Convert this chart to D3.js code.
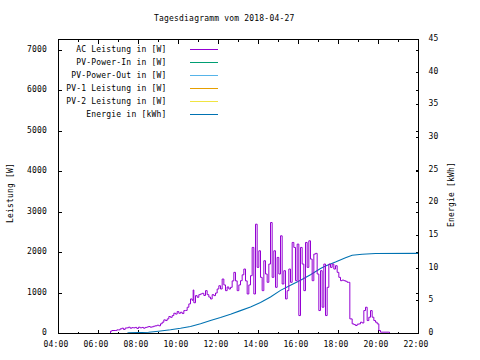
<!DOCTYPE html>
<html><head><meta charset="utf-8">
<script src="https://cdn.jsdelivr.net/npm/d3@7"></script>
<style>
body{margin:0;background:#fff}
svg{display:block}
text{font-family:"DejaVu Sans Mono",monospace;font-size:8px;fill:#000;letter-spacing:0.2px}
</style>
</head><body><svg id="c" width="480" height="360"></svg>
<script>
const titleText = "Tagesdiagramm vom 2018-04-27";
const yLeftTitle = "Leistung [W]";
const yRightTitle = "Energie [kWh]";
const seriesNames = ["AC Leistung in [W]","PV-Power-In in [W]","PV-Power-Out in [W]","PV-1 Leistung in [W]","PV-2 Leistung in [W]","Energie in [kWh]"];
const seriesColors = ["#9400d3","#009e73","#56b4e9","#e69f00","#f0e442","#0072b2"];

const xTickLabels = ["04:00","06:00","08:00","10:00","12:00","14:00","16:00","18:00","20:00","22:00"];
const xMinorTicks = ["05:00","07:00","09:00","11:00","13:00","15:00","17:00","19:00","21:00"];
const yLeftTicks = [0,1000,2000,3000,4000,5000,6000,7000];
const yRightTicks = [0,5,10,15,20,25,30,35,40,45];

const acTimes = ["06:31","06:36","06:40","06:50","06:55","07:00","07:05","07:10","07:15","07:20","07:25","07:30","07:35","07:40","07:45","07:50","07:55","08:00","08:05","08:10","08:15","08:20","08:25","08:30","08:35","08:40","08:45","08:50","08:56","09:01","09:06","09:11","09:16","09:21","09:26","09:31","09:36","09:41","09:46","09:51","09:56","10:01","10:06","10:11","10:16","10:21","10:26","10:31","10:36","10:41","10:44","10:46","10:51","10:56","11:01","11:06","11:11","11:16","11:21","11:26","11:31","11:36","11:41","11:46","11:51","11:56","12:01","12:06","12:11","12:16","12:21","12:26","12:31","12:36","12:41","12:46","12:51","12:56","13:01","13:06","13:11","13:16","13:21","13:26","13:31","13:36","13:41","13:46","13:51","13:56","14:01","14:06","14:11","14:16","14:21","14:26","14:31","14:36","14:41","14:46","14:51","14:56","15:01","15:06","15:11","15:16","15:21","15:26","15:31","15:36","15:41","15:46","15:51","15:56","16:01","16:06","16:11","16:16","16:21","16:26","16:31","16:36","16:41","16:46","16:51","16:56","17:01","17:06","17:11","17:16","17:21","17:26","17:31","17:36","17:41","17:46","17:51","17:56","18:01","18:06","18:11","18:16","18:21","18:26","18:31","18:34","18:41","18:46","18:51","18:56","19:01","19:06","19:11","19:16","19:21","19:26","19:31","19:36","19:41","19:46","19:51","19:56","20:01","20:06","20:31","20:33"];
const acValues = [0,57,74,74,90,90,115,131,100,135,140,156,131,145,140,150,125,156,140,150,131,150,160,172,156,165,180,190,205,190,240,279,337,320,361,419,400,443,501,480,542,500,525,493,566,570,649,731,854,820,1076,760,936,895,960,977,993,940,1059,960,900,854,960,936,1000,1100,1180,1100,1346,1200,1059,1150,1100,1141,1300,1511,1300,1059,1200,1305,1450,1593,1300,977,1200,1428,2127,977,2701,1634,2044,1388,1059,1798,1470,1265,1716,2742,1388,2044,1141,1880,1470,2414,1223,1552,854,1059,1593,1265,2250,2127,1305,2209,443,2127,1716,1059,2250,1634,2290,1839,1305,1962,1980,1470,567,1552,649,1716,443,1141,1716,1634,1716,1593,1675,1511,1388,1305,1320,1305,1290,1265,1265,361,238,220,197,230,238,279,260,567,649,320,402,566,402,320,279,238,74,33,33,0];

const energyTimes = ["07:25","07:30","08:30","09:00","09:36","10:06","10:36","11:06","11:36","12:06","12:36","13:06","13:36","14:06","14:36","15:06","15:36","16:06","16:36","17:06","17:21","17:51","18:21","18:41","19:11","19:51","22:00"];
const energyValues = [0,0.1,0.2,0.35,0.57,0.8,1.07,1.5,2.0,2.45,2.95,3.5,4.05,4.75,5.6,6.6,7.37,8.14,9.0,9.94,10.34,10.95,11.6,11.98,12.13,12.24,12.26];

const parse = d3.timeParse("%H:%M");
const svg = d3.select("#c");
const L = 58.5, R = 418.5, T = 39.5, B = 333.5;

const x = d3.scaleTime().domain([parse("04:00"), parse("22:00")]).range([L, R]);
const yL = d3.scaleLinear().domain([0, 7265]).range([B, T]);
const yR = d3.scaleLinear().domain([0, 45]).range([B, T]);

svg.append("text").attr("x", 154).attr("y", 20.5).text(titleText);

const g = svg.append("g").attr("shape-rendering","crispEdges");
function styleAxis(sel){ sel.select(".domain").remove(); sel.selectAll("text").remove(); sel.selectAll("line").attr("stroke","#000"); }
g.append("g").attr("transform",`translate(0,${B})`)
  .call(d3.axisBottom(x).tickValues(xTickLabels.map(parse)).tickSize(-4).offset(0)).call(styleAxis);
g.append("g").attr("transform",`translate(0,${B})`)
  .call(d3.axisBottom(x).tickValues(xMinorTicks.map(parse)).tickSize(-2).offset(0)).call(styleAxis);
g.append("g").attr("transform",`translate(0,${T})`)
  .call(d3.axisTop(x).tickValues(xTickLabels.map(parse)).tickSize(-4).offset(0)).call(styleAxis);
g.append("g").attr("transform",`translate(0,${T})`)
  .call(d3.axisTop(x).tickValues(xMinorTicks.map(parse)).tickSize(-2).offset(0)).call(styleAxis);
g.append("g").attr("transform",`translate(${L},0)`)
  .call(d3.axisLeft(yL).tickValues(yLeftTicks).tickSize(-3).offset(0)).call(styleAxis);
g.append("g").attr("transform",`translate(${R},0)`)
  .call(d3.axisRight(yL).tickValues(yLeftTicks).tickSize(-3).offset(0)).call(styleAxis);
g.append("g").attr("transform",`translate(${R},0)`)
  .call(d3.axisRight(yR).tickValues(yRightTicks).tickSize(-3).offset(0)).call(styleAxis);

svg.append("g").selectAll("text").data(xTickLabels).join("text")
  .attr("x", d => x(parse(d)) - 2.5).attr("y", 346.5).attr("text-anchor","middle").text(d => d);
svg.append("g").selectAll("text").data(yLeftTicks).join("text")
  .attr("x", 47).attr("y", d => yL(d) + 1.5).attr("text-anchor","end").text(d => d);
svg.append("g").selectAll("text").data(yRightTicks).join("text")
  .attr("x", 428.5).attr("y", d => yR(d) + 1.5).attr("text-anchor","start").text(d => d);

svg.append("text").attr("transform","translate(12.5,193) rotate(-90)").attr("text-anchor","middle").text(yLeftTitle);
svg.append("text").attr("transform","translate(454,194.5) rotate(-90)").attr("text-anchor","middle").text(yRightTitle);

const acData = acTimes.map((t,i) => ({t: parse(t), v: acValues[i]}));
const enData = energyTimes.map((t,i) => ({t: parse(t), v: energyValues[i]}));
svg.append("path").datum(enData)
  .attr("fill","none").attr("stroke",seriesColors[5]).attr("stroke-width",1.1)
  .attr("d", d3.line().x(d => x(d.t)).y(d => yR(d.v)));
svg.append("path").datum(acData)
  .attr("fill","none").attr("stroke",seriesColors[0]).attr("stroke-width",1)
  .attr("d", d3.line().x(d => x(d.t)).y(d => yL(d.v)).curve(d3.curveStepAfter));

svg.append("rect").attr("x",L).attr("y",T).attr("width",R-L).attr("height",B-T)
  .attr("fill","none").attr("stroke","#000").attr("stroke-width",1).attr("shape-rendering","crispEdges");

const lg = svg.append("g");
seriesNames.forEach((name,i) => {
  const ly = 49.5 + i*13;
  lg.append("text").attr("x",166.5).attr("y",ly+2.5).attr("text-anchor","end").text(name);
  lg.append("line").attr("x1",190).attr("x2",218).attr("y1",ly).attr("y2",ly)
    .attr("stroke",seriesColors[i]).attr("stroke-width",1).attr("shape-rendering","crispEdges");
});
</script>
</body></html>
